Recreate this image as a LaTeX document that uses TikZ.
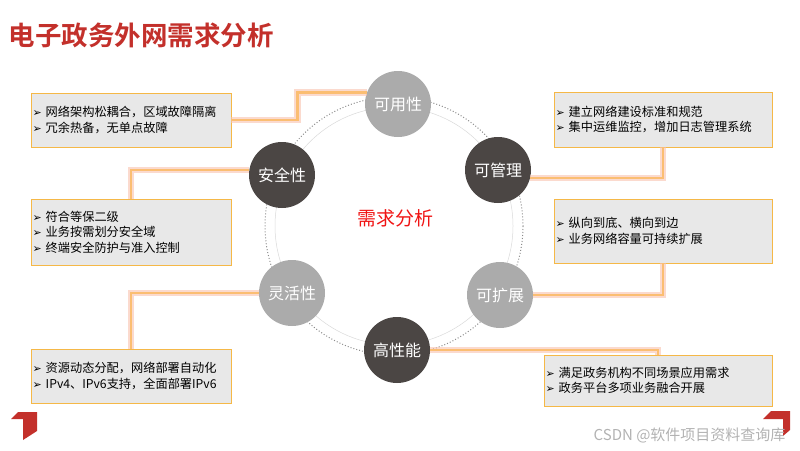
\documentclass[tikz,border=0pt]{standalone}
\usepackage{fontspec}
\setmainfont{Noto Sans CJK SC}[BoldFont={Noto Sans CJK SC Bold}]
\newfontfamily\symfnt{DejaVu Sans}
\definecolor{titlered}{HTML}{C3302B}
\definecolor{hubred}{HTML}{F01414}
\definecolor{lightball}{HTML}{ABABAB}
\definecolor{darkball}{HTML}{4B4644}
\definecolor{boxfill}{HTML}{E8E8E8}
\definecolor{boxline}{HTML}{F5B847}
\definecolor{glowcore}{HTML}{FBBE72}
\definecolor{glowhalo}{HTML}{F9C2AE}
\newcommand{\bul}{{\symfnt\fontsize{11}{11}\selectfont ➢}\hspace{4pt}}
\begin{document}
\begin{tikzpicture}[x=1pt,y=-1pt,
  ball/.style={circle, minimum size=66pt, inner sep=0pt, text=white, font=\fontsize{16}{16}\selectfont},
  lightball/.style={ball, fill=lightball},
  darkball/.style={ball, fill=darkball},
  infobox/.style={draw=boxline, line width=0.8pt, fill=boxfill, minimum width=200pt, text width=197pt, inner xsep=1.5pt, align=left, font=\fontsize{12.2}{15.5}\selectfont},
  glow/.style={draw=glowcore, line width=2.6pt, preaction={draw=glowhalo, line width=6.5pt, opacity=0.6}}]
\useasboundingbox (0,0) rectangle (800,450);
% title
\node[anchor=west, text=titlered, font=\bfseries\fontsize{26.5}{26.5}\selectfont] (title) at (5,35) {电子政务外网需求分析};
% rings
\draw[black!45, line width=1pt, dotted] (394,226) circle (129);
\draw[black!15, line width=0.5pt] (394,226) circle (119);
% hub
\node[text=hubred, font=\fontsize{19}{19}\selectfont] (hub) at (395,218) {需求分析};
% balls
\node[lightball] (ky) at (398,104) {可用性};
\node[darkball] (kg) at (498,170) {可管理};
\node[lightball] (kk) at (500,295) {可扩展};
\node[darkball] (gx) at (397,350) {高性能};
\node[lightball] (lh) at (292,293) {灵活性};
\node[darkball] (aq) at (282,175) {安全性};
% boxes
\node[infobox, minimum height=54pt] (b1) at (131,120) {\bul 网络架构松耦合，区域故障隔离\\\bul 冗余热备，无单点故障};
\node[infobox, minimum height=66pt] (b2) at (131,232) {\bul 符合等保二级\\\bul 业务按需划分安全域\\\bul 终端安全防护与准入控制};
\node[infobox, minimum height=55pt, minimum width=218pt, text width=215pt] (b3) at (663,119.5) {\bul 建立网络建设标准和规范\\\bul 集中运维监控，增加日志管理系统};
\node[infobox, minimum height=64pt, minimum width=218pt, text width=215pt] (b4) at (663,231) {\bul 纵向到底、横向到边\\\bul 业务网络容量可持续扩展};
\node[infobox, minimum height=54pt] (b5) at (131,376) {\bul 资源动态分配，网络部署自动化\\\bul IPv4、IPv6支持，全面部署IPv6};
\node[infobox, minimum height=51pt, minimum width=228pt, text width=225pt] (b6) at (658,380.5) {\bul 满足政务机构不同场景应用需求\\\bul 政务平台多项业务融合开展};
% links
\draw[glow] (b1.east) -- ++(66,0) |- (ky.160);
\draw[glow] (aq.171) -| (b2.north);
\draw[glow] (kg.-14) -| (b3.south);
\draw[glow] (kk.east) -| (b4.south);
\draw[glow] (lh.west) -| (b5.north);
\draw[glow] (gx.east) -| (b6.north);
% corner marks
\fill[titlered] (11,419) -- (18,412) -- (37,412) -- (37,431) -- (23,440) -- (23,419) -- cycle;
\fill[titlered] (763,419) -- (771,411) -- (790,411) -- (790,430) -- (783,436) -- (783,419) -- cycle;
% watermark
\node[anchor=east, text=black!30, font=\fontsize{15}{15}\selectfont] (mark) at (789,435) {CSDN @软件项目资料查询库};
\end{tikzpicture}
\end{document}
